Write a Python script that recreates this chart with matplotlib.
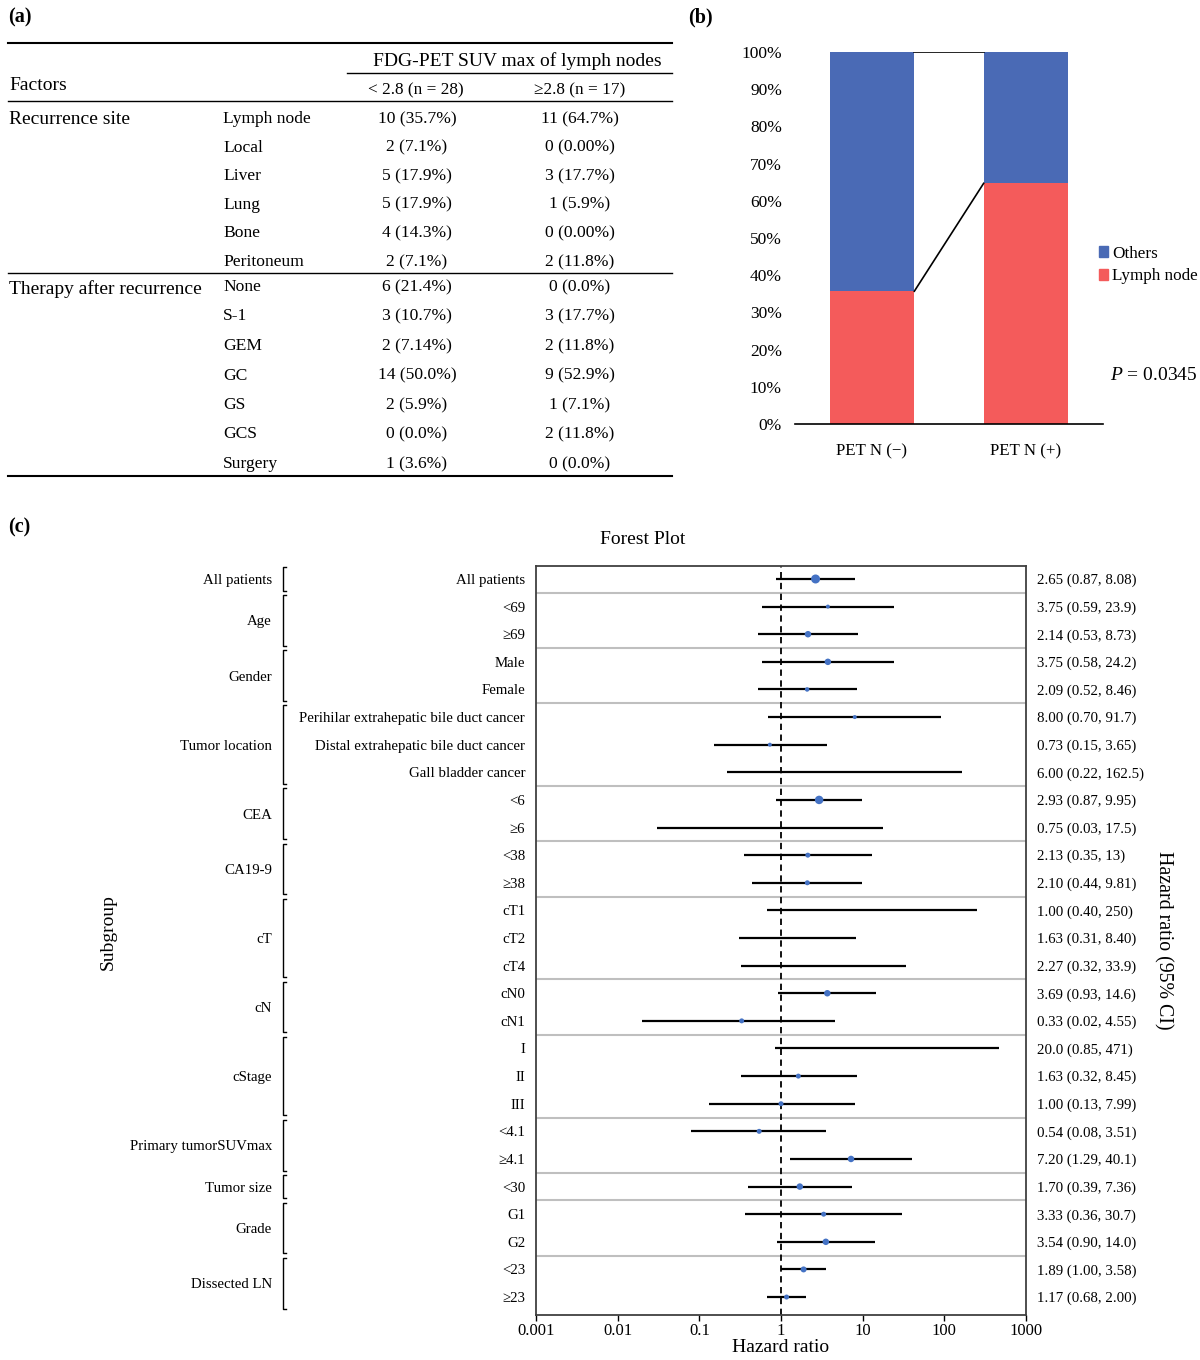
import numpy as np
import matplotlib
matplotlib.use('Agg')
import matplotlib.pyplot as plt
from matplotlib.lines import Line2D
from matplotlib.patches import Patch
from matplotlib import transforms

plt.rcParams['font.family'] = ['Liberation Serif', 'DejaVu Serif']
plt.rcParams['mathtext.fontset'] = 'custom'
plt.rcParams['mathtext.rm'] = 'Liberation Serif'
plt.rcParams['mathtext.it'] = 'Liberation Serif:italic'

W, H = 1200, 1360

# ---- data for panel (a): the table
col_header = 'FDG-PET SUV max of lymph nodes'
col_groups = ['< 2.8 (n = 28)', '\u22652.8 (n = 17)']
factors = ['Recurrence site', 'Therapy after recurrence']
recurrence_sites = ['Lymph node', 'Local', 'Liver', 'Lung', 'Bone', 'Peritoneum']
recurrence_low = ['10 (35.7%)', '2 (7.1%)', '5 (17.9%)', '5 (17.9%)', '4 (14.3%)', '2 (7.1%)']
recurrence_high = ['11 (64.7%)', '0 (0.00%)', '3 (17.7%)', '1 (5.9%)', '0 (0.00%)', '2 (11.8%)']
therapies = ['None', 'S-1', 'GEM', 'GC', 'GS', 'GCS', 'Surgery']
therapy_low = ['6 (21.4%)', '3 (10.7%)', '2 (7.14%)', '14 (50.0%)', '2 (5.9%)', '0 (0.0%)', '1 (3.6%)']
therapy_high = ['0 (0.0%)', '3 (17.7%)', '2 (11.8%)', '9 (52.9%)', '1 (7.1%)', '2 (11.8%)', '0 (0.0%)']

# ---- data for panel (b): stacked bars
pet_groups = ['PET N (\u2212)', 'PET N (+)']
lymph_node_pct = [0.357, 0.647]
others_pct = [0.643, 0.353]
p_value = '0.0345'

# ---- data for panel (c): forest plot
groups = ['All patients', 'Age', 'Gender', 'Tumor location', 'CEA', 'CA19-9', 'cT', 'cN',
          'cStage', 'Primary tumorSUVmax', 'Tumor size', 'Grade', 'Dissected LN']
group_sizes = [1, 2, 2, 3, 2, 2, 3, 2, 3, 2, 1, 2, 2]
subgroups = ['All patients', '<69', '\u226569', 'Male', 'Female',
             'Perihilar extrahepatic bile duct cancer', 'Distal extrahepatic bile duct cancer',
             'Gall bladder cancer', '<6', '\u22656', '<38', '\u226538', 'cT1', 'cT2', 'cT4',
             'cN0', 'cN1', 'I', 'II', 'III', '<4.1', '\u22654.1', '<30', 'G1', 'G2', '<23', '\u226523']
hr = [2.65, 3.75, 2.14, 3.75, 2.09, 8.00, 0.73, 6.00, 2.93, 0.75, 2.13, 2.10, 1.00, 1.63, 2.27,
      3.69, 0.33, 20.0, 1.63, 1.00, 0.54, 7.20, 1.70, 3.33, 3.54, 1.89, 1.17]
ci_low = [0.87, 0.59, 0.53, 0.58, 0.52, 0.70, 0.15, 0.22, 0.87, 0.03, 0.35, 0.44, 0.67, 0.31, 0.32,
          0.93, 0.02, 0.85, 0.32, 0.13, 0.08, 1.29, 0.39, 0.36, 0.90, 1.00, 0.68]
ci_high = [8.08, 23.9, 8.73, 24.2, 8.46, 91.7, 3.65, 162.5, 9.95, 17.5, 13, 9.81, 250, 8.40, 33.9,
           14.6, 4.55, 471, 8.45, 7.99, 3.51, 40.1, 7.36, 30.7, 14.0, 3.58, 2.00]
ci_text = ['2.65 (0.87, 8.08)', '3.75 (0.59, 23.9)', '2.14 (0.53, 8.73)', '3.75 (0.58, 24.2)',
           '2.09 (0.52, 8.46)', '8.00 (0.70, 91.7)', '0.73 (0.15, 3.65)', '6.00 (0.22, 162.5)',
           '2.93 (0.87, 9.95)', '0.75 (0.03, 17.5)', '2.13 (0.35, 13)', '2.10 (0.44, 9.81)',
           '1.00 (0.40, 250)', '1.63 (0.31, 8.40)', '2.27 (0.32, 33.9)', '3.69 (0.93, 14.6)',
           '0.33 (0.02, 4.55)', '20.0 (0.85, 471)', '1.63 (0.32, 8.45)', '1.00 (0.13, 7.99)',
           '0.54 (0.08, 3.51)', '7.20 (1.29, 40.1)', '1.70 (0.39, 7.36)', '3.33 (0.36, 30.7)',
           '3.54 (0.90, 14.0)', '1.89 (1.00, 3.58)', '1.17 (0.68, 2.00)']
# marker diameter in pixels, as seen on the picture (0 = no visible marker)
marker_px = [9, 4, 6.5, 6.5, 4.5, 4, 4, 0, 8.5, 0, 5, 5, 0, 0, 0,
             6.5, 5, 0, 5, 5, 5, 6.5, 6.5, 5, 6.5, 6, 5]
hr_ticks = [0.001, 0.01, 0.1, 1, 10, 100, 1000]


def fx(x):
    return x / W


def fy(y):
    return 1 - y / H


def hline(fig, x0, x1, y, lw=1.2):
    fig.add_artist(Line2D([fx(x0), fx(x1)], [fy(y), fy(y)], transform=fig.transFigure,
                          color='black', lw=lw))


fig = plt.figure(figsize=(12, 13.6), dpi=100)
VA = 'center_baseline'

# ================= (a) table =================
fs_fac = 14
fs_cell = 12.6
fig.text(fx(8), fy(15), '(a)', fontsize=14.5, fontweight='bold', va=VA)
hline(fig, 8, 672, 43, 1.5)
fig.text(fx(517), fy(59), col_header, fontsize=14, ha='center', va=VA)
hline(fig, 347, 672, 73, 1.0)
fig.text(fx(9), fy(84), 'Factors', fontsize=fs_fac, va=VA)
fig.text(fx(416), fy(88), col_groups[0], fontsize=12.4, ha='center', va=VA)
fig.text(fx(580), fy(88), col_groups[1], fontsize=12.4, ha='center', va=VA)
hline(fig, 8, 672, 101, 1.0)

rows1 = np.linspace(117, 260, len(recurrence_sites))
rows2 = np.linspace(285, 462, len(therapies))
fig.text(fx(9), fy(rows1[0]), factors[0], fontsize=fs_fac, va=VA)
fig.text(fx(9), fy(rows2[0] + 2), factors[1], fontsize=fs_fac, va=VA)
for y, name, a, b in zip(rows1, recurrence_sites, recurrence_low, recurrence_high):
    fig.text(fx(223), fy(y), name, fontsize=fs_cell, va=VA)
    fig.text(fx(417), fy(y), a, fontsize=fs_cell, ha='center', va=VA)
    fig.text(fx(580), fy(y), b, fontsize=fs_cell, ha='center', va=VA)
hline(fig, 8, 672, 273, 1.0)
for y, name, a, b in zip(rows2, therapies, therapy_low, therapy_high):
    fig.text(fx(223), fy(y), name, fontsize=fs_cell, va=VA)
    fig.text(fx(417), fy(y), a, fontsize=fs_cell, ha='center', va=VA)
    fig.text(fx(580), fy(y), b, fontsize=fs_cell, ha='center', va=VA)
hline(fig, 8, 672, 476, 1.5)

# ================= (b) stacked bars =================
fig.text(fx(688), fy(15), '(b)', fontsize=14.5, fontweight='bold', va=VA)
axb = fig.add_axes([fx(795), fy(424), (1103 - 795) / W, (424 - 52) / H])
xb = np.arange(len(pet_groups))
bw = 0.55
red = '#F45B5B'
blue = '#4A6AB5'
axb.bar(xb, lymph_node_pct, bw, color=red)
axb.bar(xb, others_pct, bw, bottom=lymph_node_pct, color=blue)
tops = np.array(lymph_node_pct) + np.array(others_pct)
axb.plot([xb[0] + bw / 2, xb[1] - bw / 2], [tops[0], tops[1]], color='black', lw=1.2)
axb.plot([xb[0] + bw / 2, xb[1] - bw / 2], [lymph_node_pct[0], lymph_node_pct[1]],
         color='black', lw=1.2)
axb.set_xlim(-0.5, 1.5)
axb.set_ylim(0, 1)
axb.set_yticks(np.arange(0, 1.01, 0.1))
axb.set_yticklabels([f'{int(round(v * 100))}%' for v in np.arange(0, 1.01, 0.1)], fontsize=12.5)
axb.set_xticks(xb)
axb.set_xticklabels(pet_groups, fontsize=12.2)
axb.tick_params(axis='y', length=0, pad=9.4)
axb.tick_params(axis='x', length=0, pad=14)
for s in ['top', 'right', 'left']:
    axb.spines[s].set_visible(False)
axb.spines['bottom'].set_linewidth(1.2)
handles = [Patch(color=blue, label='Others'), Patch(color=red, label='Lymph node')]
fig.legend(handles=handles, loc='center left', bbox_to_anchor=(fx(1087), fy(265)),
           frameon=False, fontsize=12.3, handlelength=0.55, handleheight=0.55,
           handletextpad=0.2, labelspacing=0.4, borderpad=0.2)
fig.text(fx(1110), fy(373), '$P$ = ' + p_value, fontsize=14, va=VA)

# ================= (c) forest plot =================
fs_f = 10.7
fig.text(fx(8), fy(525), '(c)', fontsize=14.5, fontweight='bold', va=VA)
fig.text(fx(643), fy(538), 'Forest Plot', fontsize=14, ha='center', va=VA)
ax = fig.add_axes([fx(536), fy(1315), (1026 - 536) / W, (1315 - 566) / H])
n = len(subgroups)
ypos = np.arange(n)
ax.hlines(ypos, ci_low, ci_high, color='black', lw=1.6, zorder=2)
sizes = (np.array(marker_px) * 0.72) ** 2
ax.scatter(hr, ypos, s=sizes, color='#4472C4', zorder=3, linewidths=0)
ax.axvline(1, color='black', ls=(0, (3.5, 2.5)), lw=1.3, zorder=2)
ends = np.cumsum(group_sizes) - 1
for e in ends[:-1]:
    ax.axhline(e + 0.5, color='#BFBFBF', lw=1.5, zorder=1)
ax.set_xscale('log')
ax.set_xlim(hr_ticks[0], hr_ticks[-1])
ax.set_ylim(n - 1 + 0.65, -0.47)
ax.set_yticks([])
ax.set_xticks(hr_ticks)
ax.set_xticklabels([f'{t:g}' for t in hr_ticks], fontsize=12)
ax.minorticks_off()
ax.tick_params(axis='x', length=4, width=1, pad=2)
for s in ax.spines.values():
    s.set_color('#404040')
    s.set_linewidth(1.3)
ax.set_xlabel('Hazard ratio', fontsize=14, labelpad=0)

trans = transforms.blended_transform_factory(ax.transAxes, ax.transData)
for y, name, txt in zip(ypos, subgroups, ci_text):
    ax.text(-0.022, y, name, transform=trans, ha='right', va=VA, fontsize=fs_f)
    ax.text(1.022, y, txt, transform=trans, ha='left', va=VA, fontsize=fs_f)

brx = (283 - 536) / 490
starts = ends - np.array(group_sizes) + 1
for g, s0, e0 in zip(groups, starts, ends):
    y0, y1 = s0 - 0.42, e0 + 0.42
    ax.plot([brx + 0.007, brx, brx, brx + 0.007], [y0, y0, y1, y1], transform=trans,
            color='black', lw=1.0, clip_on=False)
    ax.text((272 - 536) / 490, (s0 + e0) / 2, g, transform=trans, ha='right', va=VA,
            fontsize=fs_f)

fig.text(fx(108), fy(932), 'Subgroup', fontsize=14, rotation=90, ha='center', va='center')
fig.text(fx(1163), fy(940), 'Hazard ratio (95% CI)', fontsize=14.3, rotation=270,
         ha='center', va='center')

fig.savefig('out.png', dpi=100)
